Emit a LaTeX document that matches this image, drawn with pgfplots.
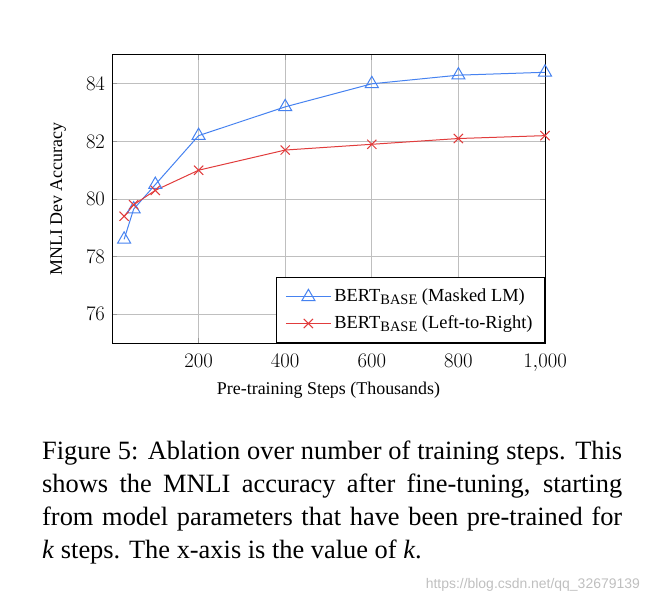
\documentclass[border=0pt]{standalone}
\usepackage{pgfplots}
\pgfplotsset{compat=1.18}
\usepackage{fontspec}
\setmainfont{Liberation Serif}
\setsansfont{Liberation Sans}
\definecolor{bblue}{RGB}{70,130,240}
\definecolor{rred}{RGB}{225,60,60}
\newcommand{\base}{\raisebox{-3bp}{\fontsize{14.5}{14}\selectfont BASE}}
\begin{document}
\begin{tikzpicture}[x=1bp,y=1bp]
\path (0,0) rectangle (649,-604);
\begin{axis}[at={(112bp,-343bp)}, anchor=south west, scale only axis,
  width=433bp, height=288bp,
  xmin=0, xmax=1000, ymin=75, ymax=85,
  xtick={200,400,600,800,1000}, ytick={76,78,80,82,84},
  grid=major, grid style={black!25, line width=0.8bp},
  axis line style={line width=1bp},
  tick style={black!40, line width=0.8bp}, major tick length=5bp,
  ticklabel style={font=\fontsize{20}{22}\selectfont},
  xticklabel style={anchor=base, yshift=-24bp},
  yticklabel style={xshift=-3.5bp},
  label style={font=\fontsize{18}{20}\selectfont},
  xlabel={Pre-training Steps (Thousands)}, ylabel={MNLI Dev Accuracy},
  xlabel style={at={(axis description cs:0.5,0)}, anchor=base, yshift=-51bp},
  ylabel style={at={(axis description cs:0,0.5)}, anchor=base, yshift=50bp},
  legend style={at={(1,0)}, anchor=south east, font=\fontsize{18.5}{20}\selectfont,
    draw=black, line width=1bp, cells={anchor=west}, inner xsep=9bp, inner ysep=9.5bp,
    row sep=7.7bp, nodes={inner xsep=3bp, inner ysep=0bp, text height=14bp, text depth=5bp}},
  legend cell align=left,
  legend image code/.code={\draw[mark repeat=2,mark phase=2] plot coordinates {(0bp,0bp) (22.5bp,0bp) (45bp,0bp)};},
]
\addplot[color=bblue, line width=1bp, mark=triangle, mark size=7.5bp, mark options={line width=1bp}]
  coordinates {(28,78.6) (50,79.65) (100,80.5) (200,82.2) (400,83.2) (600,84.0) (800,84.3) (1000,84.4)};
\addlegendentry{BERT\base{} (Masked LM)}
\addplot[color=rred, line width=1bp, mark=x, mark size=6.5bp, mark options={line width=1bp}]
  coordinates {(28,79.4) (50,79.8) (100,80.3) (200,81.0) (400,81.7) (600,81.9) (800,82.1) (1000,82.2)};
\addlegendentry{BERT\base{} (Left-to-Right)}
\end{axis}
\node[anchor=north west, inner sep=0, text width=580bp, align=justify,
  font=\fontsize{26.5}{33}\selectfont] at (42,-441)
  {Figure 5: Ablation over number of training steps. This shows the MNLI accuracy after fine-tuning, starting from model parameters that have been pre-trained for\linebreak \textit{k} steps. The x-axis is the value of \textit{k}.};
\node[anchor=base east, inner sep=0, font=\sffamily\fontsize{14}{16}\selectfont, text=black!25]
  at (640,-588) {https://blog.csdn.net/qq\_32679139};
\end{tikzpicture}
\end{document}
